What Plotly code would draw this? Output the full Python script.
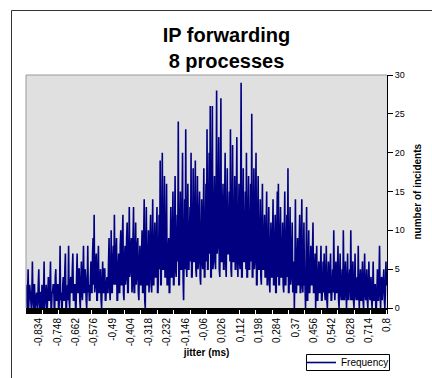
import plotly.graph_objects as go

# jitter bins (ms): -0.895 .. 0.800, step 0.0025
x_start = -0.895
x_step = 0.0025

# number of incidents per jitter bin
frequency = [
    3, 1, 0, 2, 5, 0, 1, 3, 2, 0, 0, 2, 6, 1, 0, 3, 3, 0, 1, 2, 2, 0, 0, 3, 5, 1, 0, 2, 2, 0, 3, 1, 0, 2, 6, 0, 1, 2, 3, 0,
    0, 2, 4, 1, 1, 3, 6, 0, 0, 2, 2, 3, 3, 0, 0, 4, 5, 1, 1, 3, 3, 0, 0, 2, 8, 1, 2, 0, 0, 3, 4, 1, 1, 5, 7, 0, 0, 2, 3, 1,
    8, 1, 0, 3, 4, 2, 2, 5, 7, 1, 1, 3, 3, 0, 0, 4, 7, 2, 2, 5, 5, 1, 0, 3, 6, 2, 1, 4, 8, 2, 2, 5, 4, 1, 0, 3, 8, 2, 3, 1,
    1, 4, 6, 2, 2, 7, 9, 3, 12, 2, 3, 6, 7, 1, 1, 5, 8, 2, 2, 4, 5, 1, 0, 3, 6, 2, 2, 5, 5, 1, 1, 3, 4, 2, 2, 6, 9, 3, 1, 4,
    10, 2, 2, 6, 8, 3, 12, 4, 3, 7, 9, 1, 1, 5, 7, 2, 2, 8, 10, 3, 3, 9, 12, 2, 1, 6, 8, 3, 4, 9, 11, 2, 2, 7, 13, 4, 5, 8, 9, 2,
    3, 9, 13, 2, 2, 7, 11, 3, 4, 8, 9, 2, 1, 6, 8, 3, 3, 7, 10, 2, 2, 9, 14, 1, 0, 8, 13, 3, 3, 6, 10, 2, 4, 9, 12, 3, 2, 8, 14, 3,
    3, 8, 11, 4, 4, 9, 13, 2, 2, 7, 12, 5, 19, 3, 3, 11, 20, 5, 5, 10, 17, 4, 4, 9, 16, 3, 3, 7, 9, 2, 2, 8, 13, 4, 4, 10, 15, 3, 3, 9,
    17, 5, 4, 8, 12, 6, 24, 3, 3, 10, 15, 5, 5, 12, 20, 4, 1, 8, 14, 5, 23, 6, 4, 11, 16, 5, 5, 9, 13, 6, 20, 4, 4, 10, 18, 6, 6, 12, 19, 5,
    4, 11, 17, 5, 6, 12, 15, 4, 3, 9, 14, 6, 5, 12, 18, 4, 4, 10, 16, 6, 23, 5, 5, 13, 20, 7, 26, 4, 4, 15, 26, 5, 6, 12, 17, 6, 5, 13, 28, 7,
    8, 14, 22, 5, 4, 12, 27, 6, 6, 11, 16, 5, 5, 13, 20, 6, 4, 10, 18, 7, 7, 11, 15, 6, 23, 5, 4, 12, 21, 6, 6, 11, 17, 5, 5, 14, 22, 6, 4, 10,
    16, 6, 5, 13, 29, 4, 4, 11, 18, 6, 6, 10, 15, 5, 20, 4, 4, 12, 17, 5, 5, 10, 16, 6, 25, 4, 4, 12, 18, 5, 6, 13, 20, 3, 3, 11, 17, 5, 5, 9,
    14, 4, 3, 10, 16, 5, 5, 9, 12, 4, 4, 10, 15, 3, 3, 8, 13, 4, 2, 7, 11, 4, 4, 9, 14, 3, 3, 8, 12, 2, 2, 10, 15, 4, 16, 3, 3, 9, 13, 4,
    4, 7, 11, 3, 2, 9, 15, 3, 3, 8, 12, 4, 18, 2, 2, 8, 13, 3, 4, 7, 11, 2, 3, 6, 0, 5, 14, 2, 2, 6, 9, 3, 3, 8, 12, 2, 2, 9, 14, 3,
    2, 7, 11, 3, 3, 0, 4, 13, 1, 1, 6, 10, 2, 2, 5, 8, 3, 3, 7, 11, 2, 2, 5, 7, 0, 3, 8, 1, 1, 4, 6, 2, 2, 5, 8, 1, 1, 3, 6, 2,
    7, 2, 1, 4, 8, 1, 0, 3, 6, 2, 2, 5, 7, 1, 1, 3, 5, 2, 10, 4, 1, 3, 6, 2, 2, 5, 8, 1, 0, 4, 7, 2, 1, 3, 5, 1, 10, 3, 1, 4,
    6, 2, 0, 3, 7, 1, 2, 4, 5, 1, 10, 3, 1, 4, 6, 1, 0, 3, 7, 2, 1, 3, 4, 1, 8, 2, 0, 3, 5, 1, 1, 4, 6, 1, 0, 3, 7, 2, 1, 3,
    5, 1, 0, 3, 6, 2, 1, 3, 4, 1, 0, 2, 6, 1, 1, 3, 3, 0, 0, 2, 5, 1, 1, 4, 8, 2, 0, 3, 4, 1, 2, 3, 5, 1, 0, 2, 6, 3, 3,
]
jitter = [round(x_start + i * x_step, 4) for i in range(len(frequency))]

# labelled jitter values on the category axis
tick_values = [-0.834, -0.748, -0.662, -0.576, -0.49, -0.404, -0.318, -0.232,
               -0.146, -0.06, 0.026, 0.112, 0.198, 0.284, 0.37, 0.456,
               0.542, 0.628, 0.714, 0.8]
tick_labels = ["-0,834", "-0,748", "-0,662", "-0,576", "-0,49", "-0,404",
               "-0,318", "-0,232", "-0,146", "-0,06", "0,026", "0,112",
               "0,198", "0,284", "0,37", "0,456", "0,542", "0,628",
               "0,714", "0,8"]
y_ticks = [0, 5, 10, 15, 20, 25, 30]

FONT = "Arial, Liberation Sans, sans-serif"
W, H = 432, 378
L, R, T, B = 26, 45, 75, 70
pw, ph = W - L - R, H - T - B

fig = go.Figure()
fig.add_trace(go.Scatter(
    x=jitter, y=frequency, mode="lines", name="Frequency",
    line=dict(color="#000080", width=1.6),
))

def px_x(p):
    return (p - L) / pw

def px_y(p):
    return (H - B - p) / ph

shapes = [
    # outer chart frame (top and left edges visible)
    dict(type="line", xref="paper", yref="paper",
         x0=px_x(11.5), x1=px_x(432), y0=px_y(10.5), y1=px_y(10.5),
         line=dict(color="#333333", width=1), layer="above"),
    dict(type="line", xref="paper", yref="paper",
         x0=px_x(11.5), x1=px_x(11.5), y0=px_y(10.5), y1=px_y(378),
         line=dict(color="#333333", width=1), layer="above"),
    # plot area border
    dict(type="line", xref="paper", yref="paper",
         x0=0, x1=1, y0=1, y1=1,
         line=dict(color="#9A9A9A", width=1), layer="above"),
    dict(type="line", xref="paper", yref="paper",
         x0=0, x1=0, y0=0, y1=1,
         line=dict(color="#9A9A9A", width=1), layer="above"),
    # legend frame
    dict(type="rect", xref="paper", yref="paper",
         x0=px_x(306.5), x1=px_x(389.5), y0=px_y(370.5), y1=px_y(354.5),
         line=dict(color="black", width=1), fillcolor="white", layer="above"),
]

annotations = [
    # value axis title, to the right of the tick labels
    dict(text="<b>number of incidents</b>", textangle=-90,
         xref="paper", yref="paper", x=px_x(417), y=px_y(191.5),
         xanchor="center", yanchor="middle", showarrow=False,
         font=dict(family=FONT, size=10, color="black")),
]

fig.update_layout(
    width=W, height=H,
    margin=dict(l=L, r=R, t=T, b=B, pad=0, autoexpand=False),
    paper_bgcolor="white",
    plot_bgcolor="#E0E0E0",
    font=dict(family=FONT, color="black"),
    showlegend=True,
    title=dict(
        text="<b>IP forwarding<br>8 processes</b>",
        font=dict(family=FONT, size=20, color="black"),
        x=px_x(226.5), xref="paper", xanchor="center",
        y=1 - 42 / H, yref="container", yanchor="top",
    ),
    legend=dict(
        x=301 / W, y=1 - 362.5 / H, xref="container", yref="container",
        xanchor="left", yanchor="middle",
        borderwidth=0, bgcolor="rgba(0,0,0,0)",
        itemwidth=30,
        font=dict(family=FONT, size=10, color="black"),
    ),
    shapes=shapes,
    annotations=annotations,
)

fig.update_xaxes(
    range=[-0.895, 0.8], automargin=True,
    tickmode="array", tickvals=tick_values, ticktext=tick_labels,
    tickangle=-90, tickfont=dict(family=FONT, size=10, color="black"),
    ticks="outside", ticklen=4, tickcolor="black", tickwidth=1,
    minor=dict(ticks="outside", ticklen=4, tickcolor="black", tickwidth=1,
               dtick=0.005, tick0=x_start, showgrid=False),
    showline=True, linecolor="black", linewidth=2,
    showgrid=False, zeroline=False,
    title=dict(text="<b>jitter (ms)</b>",
               font=dict(family=FONT, size=10, color="black"), standoff=4),
)

fig.update_yaxes(
    range=[0, 30], side="right", automargin=True,
    tickmode="array", tickvals=y_ticks,
    tickfont=dict(family=FONT, size=9, color="black"),
    ticks="outside", ticklen=5, tickcolor="black", tickwidth=1,
    showline=True, linecolor="black", linewidth=1,
    showgrid=False, zeroline=False,
)

fig.write_html("out.html")
